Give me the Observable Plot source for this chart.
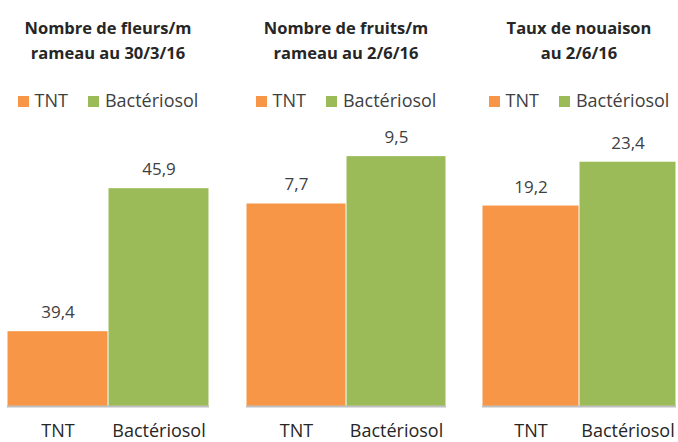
<!DOCTYPE html>
<html>
<head>
<meta charset="utf-8">
<script src="https://cdn.jsdelivr.net/npm/d3@7"></script>
<script src="https://cdn.jsdelivr.net/npm/@observablehq/plot@0.6"></script>
<style>
  html, body { margin: 0; padding: 0; background: #fff; }
  #chart { position: relative; width: 678px; height: 442px; overflow: hidden; font-family: "Open Sans", "Noto Sans", sans-serif; }
  .panel { position: absolute; top: 0; }
  .title { position: absolute; top: 15px; left: 0; right: 0; text-align: center; font-weight: bold; font-size: 16.5px; line-height: 25px; color: #262626; }
  .legend { position: absolute; top: 88px; left: 0; right: 0; display: flex; justify-content: center; gap: 20px; font-size: 18px; line-height: 24px; color: #404040; }
  .legend span.item { display: inline-flex; align-items: center; gap: 6px; }
  .legend span.sw { display: inline-block; width: 11px; height: 11px; margin-top: 3px; }
  .panel svg { position: absolute; top: 0; left: 0; }
</style>
</head>
<body>
<div id="chart"></div>
<script>
const categories = ["TNT", "Bactériosol"];
const colors = ["#F79646", "#9BBB59"];
const titles = [
  ["Nombre de fleurs/m", "rameau au 30/3/16"],
  ["Nombre de fruits/m", "rameau au 2/6/16"],
  ["Taux de nouaison", "au 2/6/16"]
];
const fleurs = [39.4, 45.9];
const fruits = [7.7, 9.5];
const nouaison = [19.2, 23.4];
const yDomains = [[36, 47], [0, 10], [0, 25]];

const seriesList = [fleurs, fruits, nouaison];
const layout = [
  {left: 0, width: 216, ml: 7, mr: 7, mt: 164},
  {left: 236, width: 220, ml: 10, mr: 10, mt: 143},
  {left: 472, width: 206, ml: 10, mr: 2, mt: 145}
];
const fmt = v => d3.format(".1f")(v).replace(".", ",");
const chart = document.getElementById("chart");

seriesList.forEach((vals, i) => {
  const L = layout[i];
  const data = categories.map((c, j) => ({cat: c, value: vals[j]}));
  const panel = document.createElement("div");
  panel.className = "panel";
  panel.style.left = L.left + "px";
  panel.style.width = L.width + "px";
  panel.style.height = "442px";

  const svg = Plot.plot({
    width: L.width,
    height: 442,
    marginLeft: L.ml,
    marginRight: L.mr,
    marginTop: L.mt,
    marginBottom: 36,
    style: {fontFamily: "'Open Sans', 'Noto Sans', sans-serif", fontSize: "17px", background: "transparent", overflow: "visible"},
    x: {domain: categories, padding: 0, axis: null},
    y: {domain: yDomains[i], axis: null},
    color: {domain: categories, range: colors},
    marks: [
      Plot.rectY(data, {x: "cat", y1: yDomains[i][0], y2: "value", fill: "cat", insetLeft: 0.5, insetRight: 0.5}),
      Plot.ruleY([yDomains[i][0]], {stroke: "#bfbfbf", strokeWidth: 2}),
      Plot.text(data, {x: "cat", y: "value", text: d => fmt(d.value), dy: -19, fill: "#404040", fontSize: 17}),
      Plot.axisX({domain: categories, tickSize: 0, tickPadding: 18, fontSize: 18, fill: "#262626", label: null})
    ]
  });
  panel.appendChild(svg);

  const t = document.createElement("div");
  t.className = "title";
  t.style.left = L.ml + "px";
  t.style.right = L.mr + "px";
  t.innerHTML = titles[i].join("<br>");
  panel.appendChild(t);

  const lg = document.createElement("div");
  lg.className = "legend";
  lg.style.left = L.ml + "px";
  lg.style.right = L.mr + "px";
  categories.forEach((c, j) => {
    const it = document.createElement("span");
    it.className = "item";
    const sw = document.createElement("span");
    sw.className = "sw";
    sw.style.background = colors[j];
    it.appendChild(sw);
    it.appendChild(document.createTextNode(c));
    lg.appendChild(it);
  });
  panel.appendChild(lg);

  chart.appendChild(panel);
});
</script>
</body>
</html>
